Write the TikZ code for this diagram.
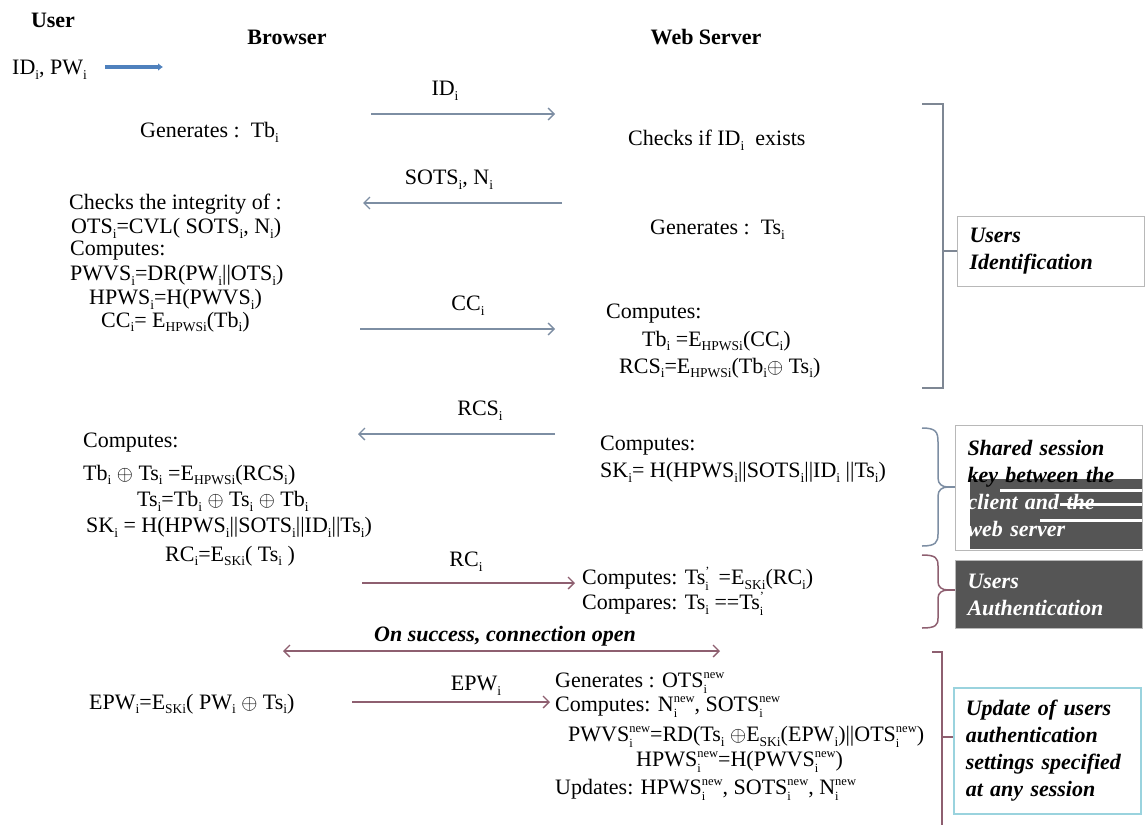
\documentclass[tikz,border=0pt]{standalone}
\usepackage{fontspec}
\setmainfont{Liberation Serif}
\usetikzlibrary{arrows.meta}
\definecolor{gblue}{HTML}{7D8EA3}
\definecolor{steel}{HTML}{4F81BD}
\definecolor{mauve}{HTML}{8E5F70}
\definecolor{brk}{HTML}{7E8794}
\definecolor{boxgray}{HTML}{B8B8B8}
\definecolor{dkgray}{HTML}{555555}
\definecolor{cyanbox}{HTML}{9AD3DE}
\newcommand{\mysub}[1]{\raisebox{-0.22em}{\fontsize{13.5}{13.5}\selectfont #1}}
\newcommand{\mysubsup}[2]{\makebox[0pt][l]{\raisebox{-0.26em}{\fontsize{12.5}{12.5}\selectfont #1}}\raisebox{0.40em}{\fontsize{12.5}{12.5}\selectfont #2}}
\begin{document}
\begin{tikzpicture}[x=1pt,y=-1pt,
  every node/.style={inner sep=0pt, font=\fontsize{22}{24}\selectfont},
  tl/.style={anchor=west},
  hd/.style={font=\fontsize{22}{24}\selectfont\bfseries},
  msg/.style={draw=gblue, line width=1.3pt, -{Straight Barb[length=6pt,width=12pt]}},
  msgm/.style={draw=mauve, line width=1.3pt, -{Straight Barb[length=6pt,width=12pt]}},
  lbl/.style={anchor=center},
  sidebox/.style={anchor=north west, text width=163pt, align=left, inner xsep=12pt,
    font=\fontsize{22}{27}\selectfont\bfseries\itshape},
  brack/.style={line width=1.5pt}
]
\useasboundingbox (0,0) rectangle (1145,825);

% headers
\node[hd] (user) at (53,20) {User};
\node[hd] (browser) at (287,37) {Browser};
\node[hd] (server) at (706,37) {Web Server};
\node[tl] (idpw) at (12,70) {ID\mysub{i}, PW\mysub{i}};
\coordinate (uA) at (105,67);
\coordinate (uB) at (163,67);
\draw[steel, line width=3.5pt, -{Latex[length=5pt,width=8pt]}] (uA) -- (uB);

% browser texts
\node[tl] (g1) at (140,132) {Generates :\ \ Tb\mysub{i}};
\node[tl] (ck1) at (69,204) {Checks the integrity of :};
\node[tl] (ck2) at (71,228) {OTS\mysub{i}=CVL( SOTS\mysub{i}, N\mysub{i})};
\node[tl] (ck3) at (70,251) {Computes:};
\node[tl] (ck4) at (70,275) {PWVS\mysub{i}=DR(PW\mysub{i}||OTS\mysub{i})};
\node[tl] (ck5) at (89,299) {HPWS\mysub{i}=H(PWVS\mysub{i})};
\node[tl] (ck6) at (101,322) {CC\mysub{i}= E\mysub{HPWSi}(Tb\mysub{i})};

\node[tl] (b1) at (83,443) {Computes:};
\node[tl] (b2) at (83,475) {Tb\mysub{i} $\oplus$ Ts\mysub{i} =E\mysub{HPWSi}(RCS\mysub{i})};
\node[tl] (b3) at (137,501) {Ts\mysub{i}=Tb\mysub{i} $\oplus$ Ts\mysub{i} $\oplus$ Tb\mysub{i}};
\node[tl] (b4) at (86,527) {SK\mysub{i} = H(HPWS\mysub{i}||SOTS\mysub{i}||ID\mysub{i}||Ts\mysub{i})};
\node[tl] (b5) at (165,556) {RC\mysub{i}=E\mysub{SKi}( Ts\mysub{i} )};

\node[tl] (e1) at (89,704) {EPW\mysub{i}=E\mysub{SKi}( PW\mysub{i} $\oplus$ Ts\mysub{i})};

% server texts
\node[tl] (ws1) at (628,140) {Checks if ID\mysub{i}\ \ exists};
\node[tl] (ws2) at (650,230) {Generates :\ \ Ts\mysub{i}};
\node[tl] (ws3) at (606,314) {Computes:};
\node[tl] (ws4) at (642,341) {Tb\mysub{i} =E\mysub{HPWSi}(CC\mysub{i})};
\node[tl] (ws5) at (619,368) {RCS\mysub{i}=E\mysub{HPWSi}(Tb\mysub{i}$\oplus$ Ts\mysub{i})};

\node[tl] (s1) at (600,446) {Computes:};
\node[tl] (s2) at (600,472) {SK\mysub{i}= H(HPWS\mysub{i}||SOTS\mysub{i}||ID\mysub{i} ||Ts\mysub{i})};

\node[tl] (a1) at (582,579) {Computes: Ts\mysubsup{i}{'}\ \,=E\mysub{SKi}(RC\mysub{i})};
\node[tl] (a2) at (582,604) {Compares: Ts\mysub{i} ==Ts\mysubsup{i}{'}};

\node[tl] (u1) at (555,683) {Generates : OTS\mysubsup{i}{new}};
\node[tl] (u2) at (555,707) {Computes: N\mysubsup{i}{new}, SOTS\mysubsup{i}{new}};
\node[tl] (u3) at (568,737) {PWVS\mysubsup{i}{new}=RD(Ts\mysub{i} $\oplus$E\mysub{SKi}(EPW\mysub{i})||OTS\mysubsup{i}{new})};
\node[tl] (u4) at (636,762) {HPWS\mysubsup{i}{new}=H(PWVS\mysubsup{i}{new})};
\node[tl] (u5) at (555,790) {Updates: HPWS\mysubsup{i}{new}, SOTS\mysubsup{i}{new}, N\mysubsup{i}{new}};

% messages
\coordinate (idA) at (371,114); \coordinate (idB) at (555,114);
\draw[msg] (idA) -- (idB);
\node[lbl] (lid) at (445,91) {ID\mysub{i}};

\coordinate (soA) at (562,203); \coordinate (soB) at (363,203);
\draw[msg] (soA) -- (soB);
\node[lbl] (lso) at (449,180) {SOTS\mysub{i}, N\mysub{i}};

\coordinate (ccA) at (360,329); \coordinate (ccB) at (555,329);
\draw[msg] (ccA) -- (ccB);
\node[lbl] (lcc) at (468,306) {CC\mysub{i}};

\coordinate (rcsA) at (555,434); \coordinate (rcsB) at (358,434);
\draw[msg] (rcsA) -- (rcsB);
\node[lbl] (lrcs) at (480,411) {RCS\mysub{i}};

\coordinate (rcA) at (362,583); \coordinate (rcB) at (575,583);
\draw[msgm] (rcA) -- (rcB);
\node[lbl] (lrc) at (466,562) {RC\mysub{i}};

\coordinate (okA) at (283,651); \coordinate (okB) at (720,651);
\draw[msgm, {Straight Barb[length=6pt,width=12pt]}-{Straight Barb[length=6pt,width=12pt]}] (okA) -- (okB);
\node[lbl, font=\fontsize{22}{24}\selectfont\bfseries\itshape] (lok) at (505,636) {On success, connection open};

\coordinate (epA) at (352,702); \coordinate (epB) at (550,702);
\draw[msgm] (epA) -- (epB);
\node[lbl] (lep) at (476,686) {EPW\mysub{i}};

% side boxes
\node[sidebox, draw=boxgray, line width=1pt, minimum height=70pt] (bid) at (957,216) {Users\\Identification};

\fill[dkgray] (970,479) rectangle (1143,549);
\fill[white] (1000,489) rectangle (1143,492);
\fill[white] (1060,503) rectangle (1143,506);
\fill[white] (1040,519) rectangle (1143,522);
\node[sidebox, draw=boxgray, line width=1pt, minimum height=125pt] (bsk) at (955,425)
  {Shared session\\key between the\\\textcolor{white}{client and the}\\\textcolor{white}{web server}};

\node[sidebox, draw=boxgray, fill=dkgray, text=white, line width=1pt, minimum height=68pt] (bau) at (955,560) {Users\\Authentication};

\node[sidebox, draw=cyanbox, line width=1.5pt, minimum height=126pt] (bup) at (953,687)
  {Update of users\\authentication\\settings specified\\at any session};

% brackets
\draw[brack, draw=brk] (922,104) -- (943,104) -- (943,388) -- (922,388);
\coordinate (idtip) at (943,251);
\draw[brack, draw=brk] (idtip) -- (bid.west |- idtip);

\draw[brack, draw=gblue] (922,428) .. controls (936,428) and (938,432) .. (938,442) -- (938,478)
  .. controls (938,484) and (942,487) .. (948,487) .. controls (942,487) and (938,490) .. (938,496)
  -- (938,534) .. controls (938,542) and (936,546) .. (922,546);
\coordinate (sktip) at (948,487);
\draw[brack, draw=gblue] (sktip) -- (bsk.west |- sktip);

\draw[brack, draw=mauve] (922,555) .. controls (936,555) and (938,558) .. (938,566) -- (938,582)
  .. controls (938,587) and (942,590) .. (948,590) .. controls (942,590) and (938,593) .. (938,598)
  -- (938,618) .. controls (938,625) and (936,628) .. (922,628);
\coordinate (autip) at (948,590);
\draw[brack, draw=mauve] (autip) -- (bau.west |- autip);

\draw[brack, draw=mauve] (932,652) -- (942,652) -- (942,825);
\coordinate (uptip) at (942,737);
\draw[brack, draw=mauve] (uptip) -- (bup.west |- uptip);
\end{tikzpicture}
\end{document}
